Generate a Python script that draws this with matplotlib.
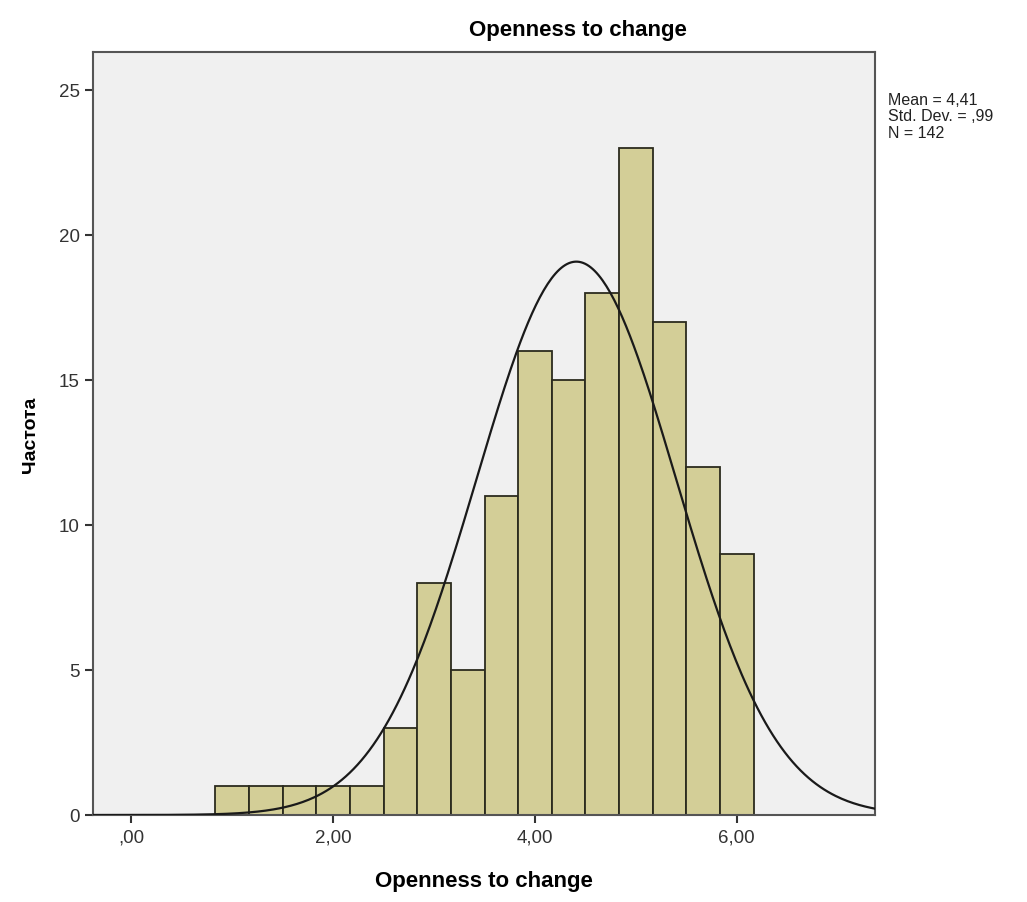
import numpy as np
import matplotlib
matplotlib.use("Agg")
import matplotlib.pyplot as plt

# histogram data (SPSS output)
bin_edges = np.linspace(5 / 6, 37 / 6, 17)
counts = [1, 1, 1, 1, 1, 3, 8, 5, 11, 16, 15, 18, 23, 17, 12, 9]
mean = 4.41
std = 0.99
n = 142
x_ticks = [0, 2, 4, 6]
x_tick_labels = [",00", "2,00", "4,00", "6,00"]
y_ticks = [0, 5, 10, 15, 20, 25]

plt.rcParams['font.family'] = ['Liberation Sans', 'DejaVu Sans']

fig = plt.figure(figsize=(10.27, 9.03), dpi=100)
ax = fig.add_axes([93 / 1027, 1 - 816 / 903, (875 - 93) / 1027, (816 - 53) / 903])
ax.set_facecolor("#F0F0F0")

widths = np.diff(bin_edges)
ax.bar(bin_edges[:-1], counts, width=widths, align="edge",
       color="#D3CE97", edgecolor="#2b2b1e", linewidth=1.3, zorder=2)

xs = np.linspace(-0.38, 7.37, 400)
bw = widths[0]
ys = n * bw / (std * np.sqrt(2 * np.pi)) * np.exp(-0.5 * ((xs - mean) / std) ** 2)
ax.plot(xs, ys, color="#1a1a1a", linewidth=1.6, zorder=3)

ax.set_xlim(-0.38, 7.37)
ax.set_ylim(0, 26.3)
ax.set_xticks(x_ticks)
ax.set_xticklabels(x_tick_labels, fontsize=13.5, color="#333333")
ax.set_yticks(y_ticks)
ax.set_yticklabels([str(v) for v in y_ticks], fontsize=13.5, color="#333333")
ax.tick_params(length=6, width=1.5, color="#333333")
for s in ax.spines.values():
    s.set_color("#555555")
    s.set_linewidth(1.5)

ax.set_xlabel("Openness to change", fontsize=16, fontweight="bold", labelpad=18)
ax.set_ylabel("Частота", fontsize=14, fontweight="bold", labelpad=14)
fig.text(0.563, 0.966, "Openness to change", ha="center", va="center",
         fontsize=16, fontweight="bold")
fig.text(888 / 1027, 1 - 93 / 903, "Mean = 4,41\nStd. Dev. = ,99\nN = 142",
         ha="left", va="top", fontsize=11.5, linespacing=1.12, color="#222222")

fig.savefig("out.png", dpi=100)
